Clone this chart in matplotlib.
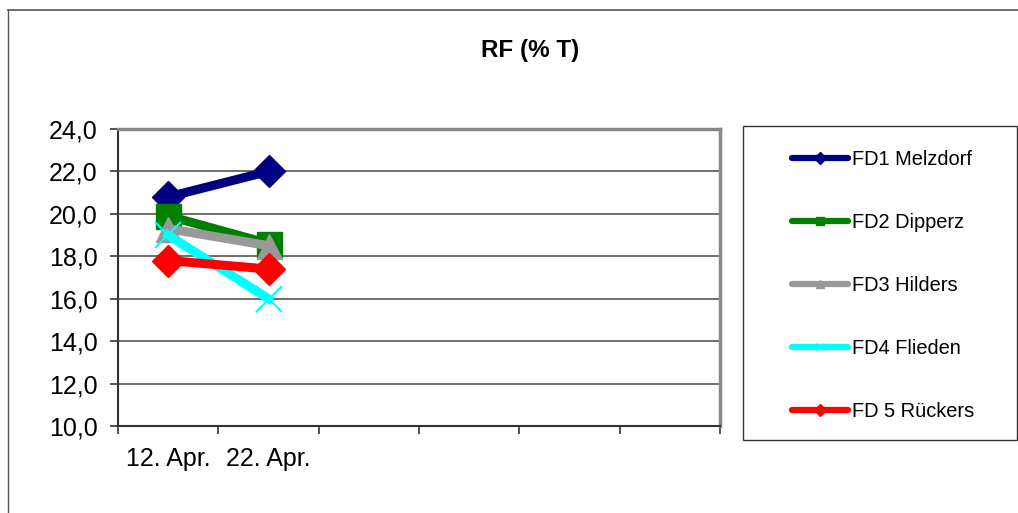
import numpy as np
import matplotlib
matplotlib.use("Agg")
import matplotlib.pyplot as plt
from matplotlib.lines import Line2D
from matplotlib.patches import Rectangle

plt.rcParams['font.family'] = ['Liberation Sans', 'DejaVu Sans']

categories = ["12. Apr.", "22. Apr.", "", "", "", ""]
series_names = ["FD1 Melzdorf", "FD2 Dipperz", "FD3 Hilders", "FD4 Flieden", "FD 5 Rückers"]
fd1 = [20.8, 22.0]
fd2 = [19.9, 18.6]
fd3 = [19.3, 18.5]
fd4 = [19.0, 16.0]
fd5 = [17.8, 17.4]
y_ticks = [10, 12, 14, 16, 18, 20, 22, 24]

colors = ["#000080", "#008000", "#999999", "#00ffff", "#ff0000"]
markers = ["D", "s", "^", "x", "D"]
msizes = [16, 18, 18, 19, 16]

fig = plt.figure(figsize=(10.18, 5.13), dpi=100)
ax = fig.add_axes([118/1018, 1-426/513, (720-118)/1018, (426-129)/513])

x = np.arange(len(fd1))
for vals, name, c, m, ms in zip([fd1, fd2, fd3, fd4, fd5], series_names, colors, markers, msizes):
    ax.plot(x, vals, color=c, lw=6.5, marker=m, markersize=ms,
            markeredgewidth=1.5 if m == "x" else 1, clip_on=False)

ax.set_xlim(-0.5, len(categories)-0.5)
ax.set_ylim(10, 24)
ax.set_yticks(y_ticks)
ax.set_yticklabels([f"{v:.1f}".replace(".", ",") for v in y_ticks], fontsize=18)
ax.set_xticks(np.arange(len(categories)+1) - 0.5)
ax.set_xticklabels([])
ax.set_xticks(np.arange(len(categories)), minor=True)
ax.set_xticklabels(categories, minor=True, fontsize=18)
ax.tick_params(axis='x', which='minor', length=0, pad=15)
ax.tick_params(axis='both', which='major', length=6, width=1.2, color="#333333", direction='out')
ax.tick_params(axis='y', which='major', pad=8.5)
ax.grid(axis='y', color="#555555", lw=1.2)
ax.set_axisbelow(True)
for s in ['left', 'bottom']:
    ax.spines[s].set_color("#333333")
    ax.spines[s].set_linewidth(1.5)
for s in ['top', 'right']:
    ax.spines[s].set_color("#888888")
    ax.spines[s].set_linewidth(2.5)

fig.text(530/1018, 1-50/513, "RF (% T)", ha='center', va='center', fontsize=17.5, fontweight='bold')

# legend box
fig.add_artist(Rectangle((743/1018, 1-440/513), (1017-743)/1018, (440-126)/513,
                         transform=fig.transFigure, fill=False, edgecolor="#333333", lw=1.0))
handles = [Line2D([], [], color=c, lw=4.5, marker=m, markersize=6, solid_capstyle='round')
           for c, m in zip(colors, markers)]
leg = fig.legend(handles, series_names, loc='upper left',
                 bbox_to_anchor=(792/1018, 1-150/513),
                 bbox_transform=fig.transFigure, borderaxespad=0, borderpad=0,
                 fontsize=14.4, frameon=False,
                 handlelength=2.8, handletextpad=0.2, labelspacing=2.2)

# outer chart border
fig.add_artist(Line2D([8/1018, 8/1018], [0, 1-10/513], transform=fig.transFigure, color="#555555", lw=1))
fig.add_artist(Line2D([8/1018, 1], [1-10/513, 1-10/513], transform=fig.transFigure, color="#555555", lw=1.2))

fig.savefig("out.png", dpi=100)
